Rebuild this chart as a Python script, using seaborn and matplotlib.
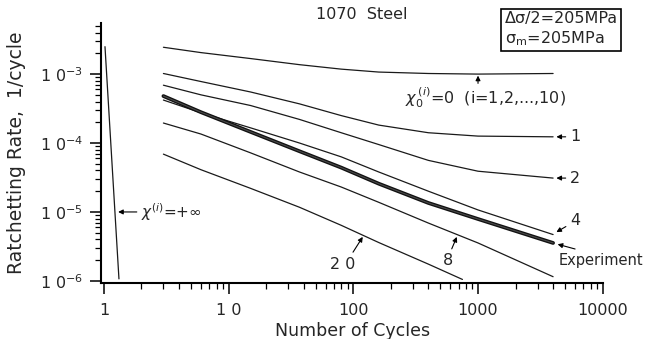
import numpy as np
import pandas as pd
import matplotlib
matplotlib.use("Agg")
import matplotlib.pyplot as plt
import seaborn as sns

# Ratchetting rate vs. number of cycles, 1070 steel
cycles = [3, 6, 15, 37, 80, 160, 400, 1000, 4000]
rate_x0 = [2.45e-3, 2.05e-3, 1.68e-3, 1.37e-3, 1.18e-3, 1.07e-3, 1.02e-3, 1.0e-3, 1.02e-3]
rate_1 = [1.02e-3, 7.8e-4, 5.5e-4, 3.7e-4, 2.5e-4, 1.82e-4, 1.41e-4, 1.26e-4, 1.23e-4]
rate_2 = [6.9e-4, 5.0e-4, 3.5e-4, 2.2e-4, 1.41e-4, 9.5e-5, 5.6e-5, 3.9e-5, 3.1e-5]
rate_4 = [4.2e-4, 2.75e-4, 1.66e-4, 1.0e-4, 6.3e-5, 3.8e-5, 2.0e-5, 1.07e-5, 4.7e-6]
rate_exp = [4.8e-4, 2.8e-4, 1.45e-4, 7.6e-5, 4.4e-5, 2.57e-5, 1.35e-5, 7.9e-6, 3.55e-6]
rate_8 = [1.95e-4, 1.35e-4, 7.2e-5, 3.8e-5, 2.3e-5, 1.38e-5, 6.9e-6, 3.55e-6, 1.15e-6]
cycles_20 = [3, 6, 15, 37, 80, 160, 400, 750]
rate_20 = [6.9e-5, 4.1e-5, 2.2e-5, 1.17e-5, 6.4e-6, 3.6e-6, 1.75e-6, 1.05e-6]
cycles_inf = [1.02, 1.32]
rate_inf = [2.5e-3, 1.07e-6]

x_ticks = [1, 10, 100, 1000, 10000]
x_tick_labels = ["1", "1 0", "100", "1000", "10000"]
y_ticks = [1e-6, 1e-5, 1e-4, 1e-3]
y_tick_labels = ["1 0$^{-6}$", "1 0$^{-5}$", "1 0$^{-4}$", "1 0$^{-3}$"]

series = [
    ("x0", cycles, rate_x0),
    ("1", cycles, rate_1),
    ("2", cycles, rate_2),
    ("4", cycles, rate_4),
    ("8", cycles, rate_8),
    ("20", cycles_20, rate_20),
    ("inf", cycles_inf, rate_inf),
    ("exp", cycles, rate_exp),
]
df = pd.concat(
    [pd.DataFrame({"curve": name, "N": n, "rate": r}) for name, n, r in series],
    ignore_index=True,
)

sns.set_style("ticks")
plt.rcParams["font.family"] = ["DejaVu Sans"]
plt.rcParams["mathtext.fontset"] = "dejavusans"

fig = plt.figure(figsize=(6.46, 3.39), dpi=100)
ax = fig.add_axes([0.157, 0.165, 0.776, 0.767])
ax.set_xscale("log")
ax.set_yscale("log")

for name, sub in df.groupby("curve", sort=False):
    if name == "exp":
        sns.lineplot(data=sub, x="N", y="rate", ax=ax, color="#111111",
                     lw=2.7, estimator=None, sort=False)
        sns.lineplot(data=sub, x="N", y="rate", ax=ax, color="#4a4a4a",
                     lw=0.8, estimator=None, sort=False)
    else:
        sns.lineplot(data=sub, x="N", y="rate", ax=ax, color="#1a1a1a",
                     lw=0.9, estimator=None, sort=False)

ax.set_xlim(0.955, 10000)
ax.set_ylim(0.93e-6, 5.5e-3)
ax.set_xticks(x_ticks)
ax.set_xticklabels(x_tick_labels)
ax.set_yticks(y_ticks)
ax.set_yticklabels(y_tick_labels)
ax.tick_params(axis="both", which="major", direction="out", length=8,
               width=1.1, labelsize=11.5, color="black")
ax.tick_params(axis="both", which="minor", direction="out", length=4.5,
               width=0.9, color="black")
ax.tick_params(axis="x", which="major", pad=6)
ax.tick_params(axis="y", which="major", pad=5)
sns.despine(ax=ax)
for side in ("left", "bottom"):
    ax.spines[side].set_linewidth(1.5)
    ax.spines[side].set_color("black")

ax.set_xlabel("Number of Cycles", fontsize=12.5, labelpad=3)
ax.set_ylabel("Ratchetting Rate,  1/cycle", fontsize=13.5, labelpad=10)

arrow = dict(arrowstyle="-|>", color="black", lw=0.8, mutation_scale=7,
             shrinkA=1, shrinkB=0)

fig.text(0.560, 0.958, "1070  Steel", fontsize=11.5, ha="center", va="center")
fig.text(0.781, 0.968, "\u0394\u03c3/2=205MPa\n\u03c3$_\\mathregular{m}$=205MPa",
         fontsize=11.5, ha="left", va="top", linespacing=1.25,
         bbox=dict(boxstyle="square,pad=0.2", fc="white", ec="black", lw=1.2))

ax.text(259, 4.5e-4, "$\\chi_0^{\\,(i)}$=0  (i=1,2,...,10)", fontsize=11.5,
        ha="left", va="center")
ax.annotate("", xy=(1000, 9.5e-4), xytext=(1000, 7.0e-4), arrowprops=arrow)

ax.annotate("1", xy=(4250, rate_1[-1]), xytext=(5500, rate_1[-1]),
            fontsize=11.5, ha="left", va="center", arrowprops=arrow)
ax.annotate("2", xy=(4250, rate_2[-1]), xytext=(5500, rate_2[-1]),
            fontsize=11.5, ha="left", va="center", arrowprops=arrow)
ax.annotate("4", xy=(4250, 5.1e-6), xytext=(5500, 7.4e-6),
            fontsize=11.5, ha="left", va="center", arrowprops=arrow)
ax.annotate("Experiment", xy=(4350, 3.4e-6), xytext=(4450, 2.0e-6),
            fontsize=10.5, ha="left", va="center",
            arrowprops=dict(arrow, relpos=(0.35, 1.0)))
ax.annotate("8", xy=(676, 4.35e-6), xytext=(572, 1.95e-6),
            fontsize=11.5, ha="center", va="center",
            arrowprops=dict(arrow, relpos=(0.7, 1.0)))
ax.annotate("2 0", xy=(119, 4.35e-6), xytext=(82, 1.75e-6),
            fontsize=11.5, ha="center", va="center",
            arrowprops=dict(arrow, relpos=(0.8, 1.0)))
ax.annotate("$\\chi^{(i)}$=+\u221e", xy=(1.30, 1.0e-5), xytext=(2.0, 1.0e-5),
            fontsize=11, ha="left", va="center", arrowprops=arrow)

fig.savefig("out.png", dpi=100)
